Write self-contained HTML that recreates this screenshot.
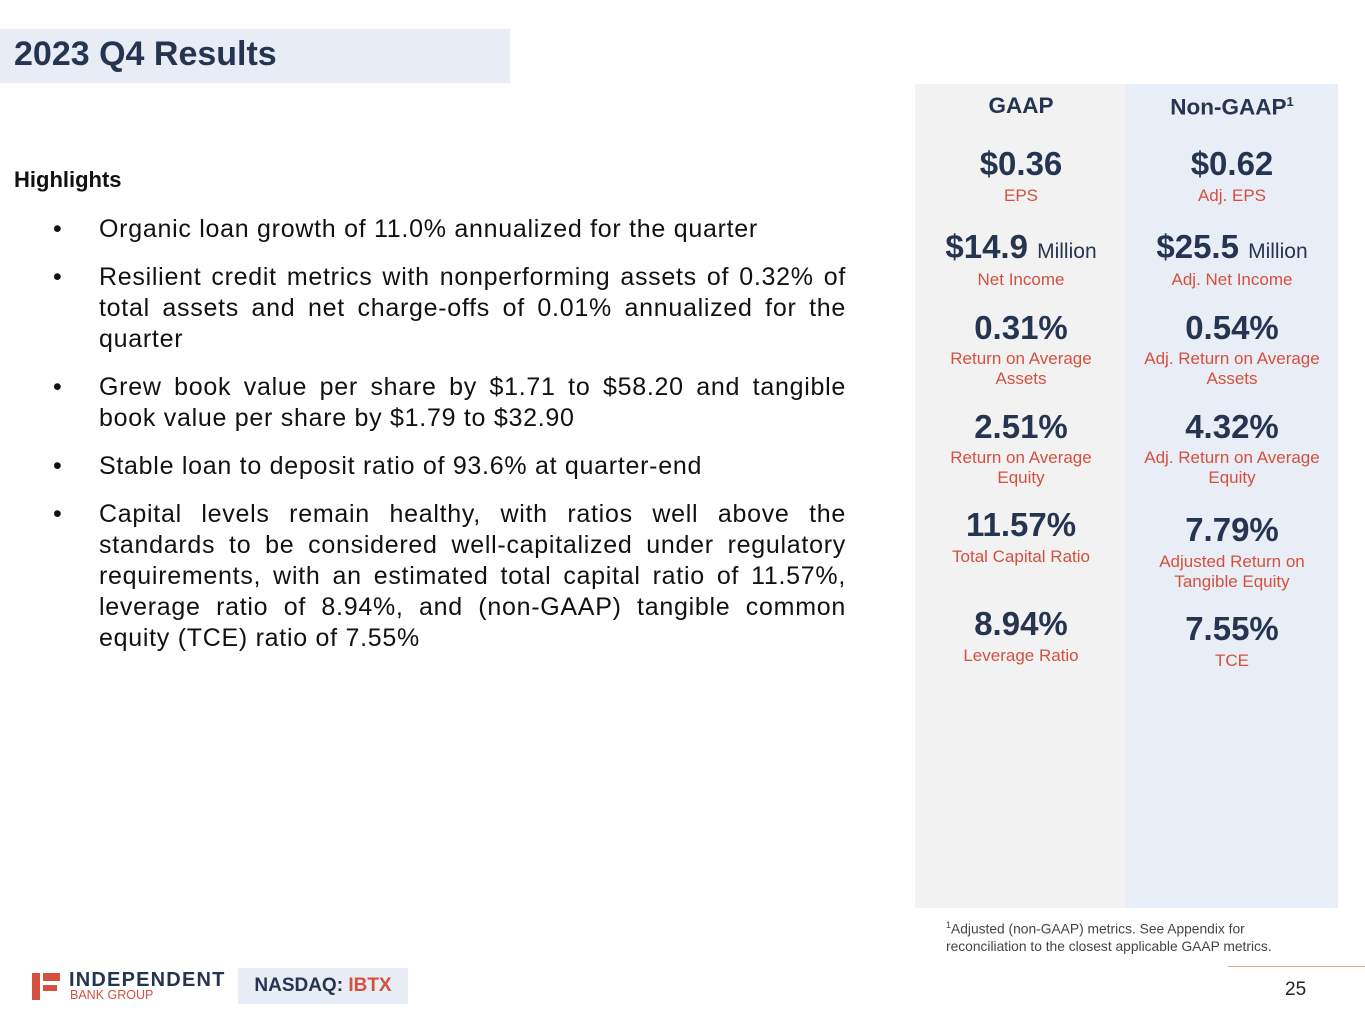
<!DOCTYPE html>
<html><head><style>
body{margin:0;width:1365px;height:1024px;position:relative;background:#fff;font-family:"Liberation Sans",sans-serif;overflow:hidden;color:#253551}
.a{position:absolute}
.c{position:absolute;text-align:center;width:212px;line-height:1}
.h{font-weight:bold;font-size:22.5px}
.v{font-weight:bold;font-size:33px}
.l{color:#d4503f;font-size:17px;line-height:20px}
.m{font-weight:normal;font-size:21px}
ul{margin:0;padding:0;list-style:none}
li{position:relative;font-size:25px;letter-spacing:0.72px;line-height:31px;text-align:justify;color:#111;margin-bottom:17px}
li:before{content:"•";position:absolute;left:-46px}
</style></head><body>
<div class="a" style="left:0;top:29px;width:510px;height:54px;background:#e8edf5"></div>
<div class="a" style="left:14px;top:34px;font-size:34px;font-weight:bold;line-height:40px">2023 Q4 Results</div>
<div class="a" style="left:14px;top:167px;font-size:22px;font-weight:bold;color:#111">Highlights</div>
<ul class="a" style="left:99px;top:214px;width:747px">
<li>Organic loan growth of 11.0% annualized for the quarter</li>
<li>Resilient credit metrics with nonperforming assets of 0.32% of total assets and net charge-offs of 0.01% annualized for the quarter</li>
<li>Grew book value per share by $1.71 to $58.20 and tangible book value per share by $1.79 to $32.90</li>
<li>Stable loan to deposit ratio of 93.6% at quarter-end</li>
<li>Capital levels remain healthy, with ratios well above the standards to be considered well-capitalized under regulatory requirements, with an estimated total capital ratio of 11.57%, leverage ratio of 8.94%, and (non-GAAP) tangible common equity (TCE) ratio of 7.55%</li>
</ul>
<div class="a" style="left:915px;top:84px;width:211px;height:824px;background:#f2f2f2"></div>
<div class="a" style="left:1126px;top:84px;width:212px;height:824px;background:#e9edf5"></div>

<div class="c h" style="left:915px;top:95px">GAAP</div>
<div class="c v" style="left:915px;top:147px">$0.36</div>
<div class="c l" style="left:915px;top:186px">EPS</div>
<div class="c v" style="left:915px;top:230px">$14.9 <span class="m">Million</span></div>
<div class="c l" style="left:915px;top:270px">Net Income</div>
<div class="c v" style="left:915px;top:311px">0.31%</div>
<div class="c l" style="left:915px;top:349px">Return on Average<br>Assets</div>
<div class="c v" style="left:915px;top:410px">2.51%</div>
<div class="c l" style="left:915px;top:448px">Return on Average<br>Equity</div>
<div class="c v" style="left:915px;top:508px">11.57%</div>
<div class="c l" style="left:915px;top:547px">Total Capital Ratio</div>
<div class="c v" style="left:915px;top:607px">8.94%</div>
<div class="c l" style="left:915px;top:646px">Leverage Ratio</div>

<div class="c h" style="left:1126px;top:95px">Non-GAAP<sup style="font-size:13px">1</sup></div>
<div class="c v" style="left:1126px;top:147px">$0.62</div>
<div class="c l" style="left:1126px;top:186px">Adj. EPS</div>
<div class="c v" style="left:1126px;top:230px">$25.5 <span class="m">Million</span></div>
<div class="c l" style="left:1126px;top:270px">Adj. Net Income</div>
<div class="c v" style="left:1126px;top:311px">0.54%</div>
<div class="c l" style="left:1126px;top:349px">Adj. Return on Average<br>Assets</div>
<div class="c v" style="left:1126px;top:410px">4.32%</div>
<div class="c l" style="left:1126px;top:448px">Adj. Return on Average<br>Equity</div>
<div class="c v" style="left:1126px;top:513px">7.79%</div>
<div class="c l" style="left:1126px;top:552px">Adjusted Return on<br>Tangible Equity</div>
<div class="c v" style="left:1126px;top:612px">7.55%</div>
<div class="c l" style="left:1126px;top:651px">TCE</div>

<div class="a" style="left:946px;top:917px;font-size:13.8px;line-height:17px;color:#444"><sup style="font-size:9px">1</sup>Adjusted (non-GAAP) metrics. See Appendix for<br>reconciliation to the closest applicable GAAP metrics.</div>

<div class="a" style="left:32px;top:973px;width:8px;height:27px;background:#d4503f"></div>
<div class="a" style="left:43px;top:973px;width:17px;height:8px;background:#d4503f"></div>
<div class="a" style="left:43px;top:985px;width:14px;height:6px;background:#d4503f"></div>
<div class="a" style="left:69px;top:969px;font-size:20px;font-weight:bold;letter-spacing:1.2px;line-height:22px">INDEPENDENT</div>
<div class="a" style="left:70px;top:989px;font-size:12.5px;color:#d4503f;line-height:13px">BANK GROUP</div>
<div class="a" style="left:238px;top:968px;width:170px;height:36px;background:#e8edf5;font-size:19px;font-weight:bold;line-height:36px;text-align:center">NASDAQ: <span style="color:#d4503f">IBTX</span></div>
<div class="a" style="left:1228px;top:966px;width:137px;height:1px;background:#e8a090"></div>
<div class="a" style="left:1285px;top:979px;font-size:19px;color:#222">25</div>
</body></html>
